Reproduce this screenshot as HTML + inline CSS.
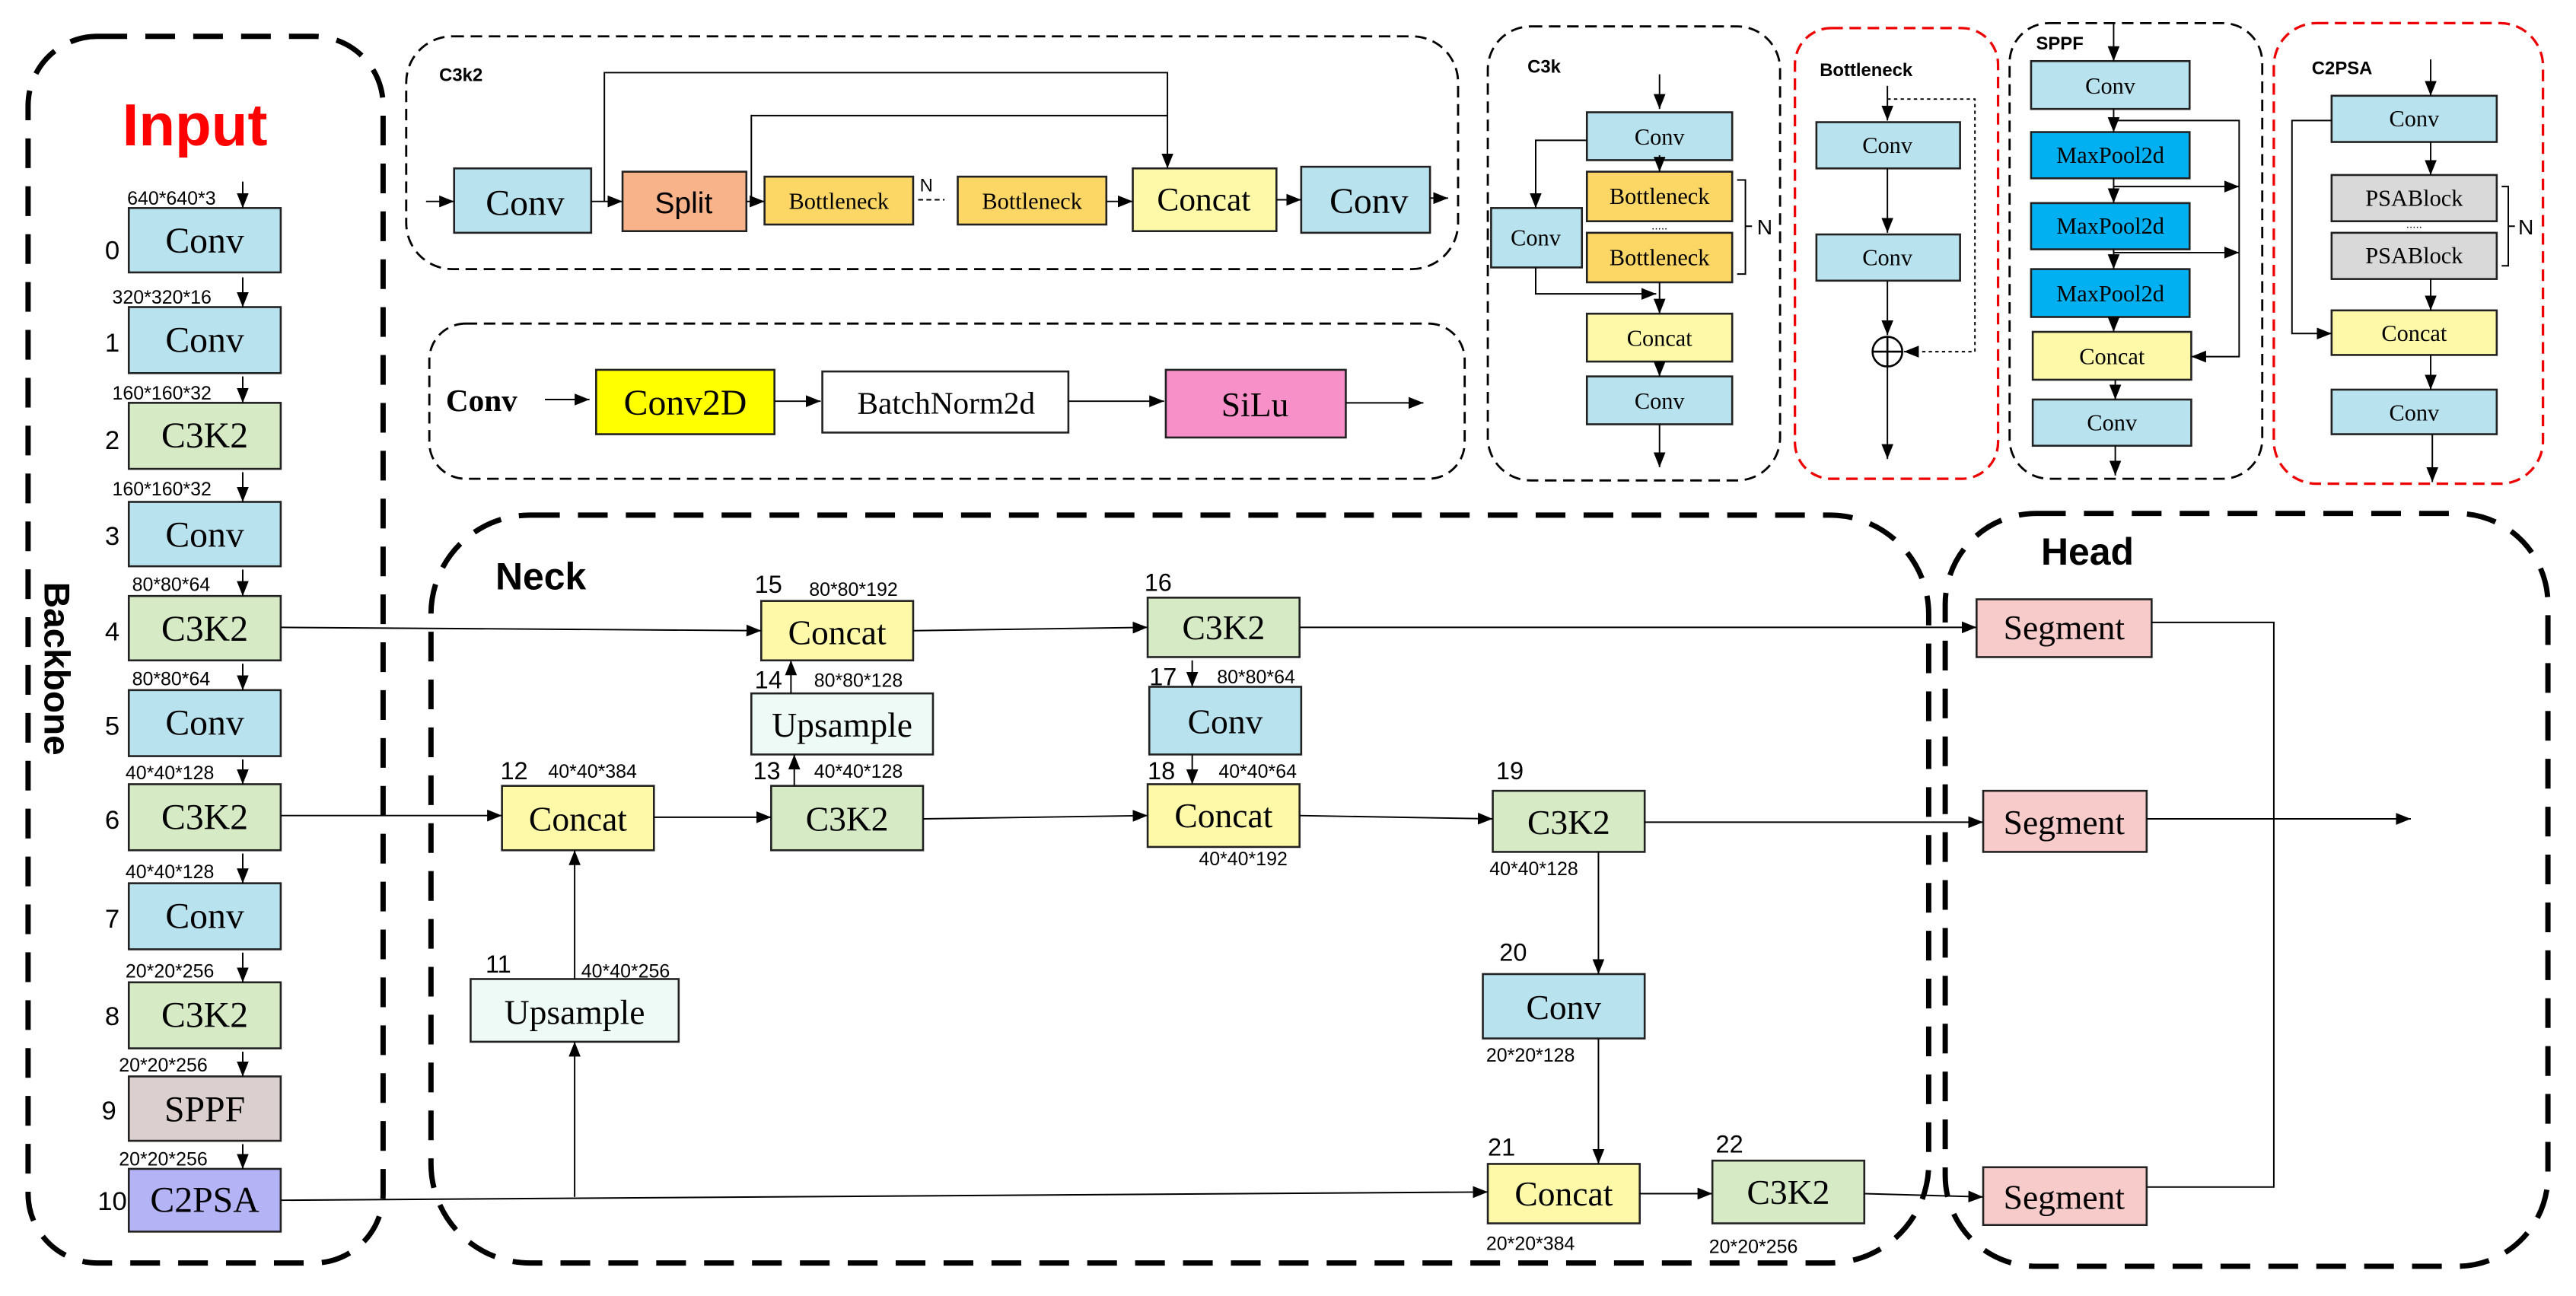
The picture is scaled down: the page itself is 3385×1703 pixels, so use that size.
<!DOCTYPE html>
<html><head><meta charset="utf-8"><style>
html,body{margin:0;padding:0;background:#fff;}
svg{display:block;}
.b{stroke:#222;stroke-width:1.2;}
.t{font-family:"Liberation Serif",serif;text-anchor:middle;dominant-baseline:central;fill:#000;}
.s{font-family:"Liberation Sans",sans-serif;fill:#000;}
.l{stroke:#000;stroke-width:0.9;fill:none;}
.bd{fill:none;stroke:#000;stroke-width:3.2;stroke-dasharray:18 11;}
.td{fill:none;stroke:#000;stroke-width:1.3;stroke-dasharray:7 4;}
.rd{fill:none;stroke:#e00;stroke-width:1.5;stroke-dasharray:7 4;}
</style></head><body>
<svg width="3385" height="1703" viewBox="0 0 1560 785" preserveAspectRatio="none" xmlns="http://www.w3.org/2000/svg">
<defs><marker id="a" viewBox="0 0 10 10" refX="10" refY="5" markerWidth="9" markerHeight="9" markerUnits="userSpaceOnUse" orient="auto"><path d="M0,1 L10,5 L0,9 z" fill="#000"/></marker></defs>
<rect width="1560" height="785" fill="#fff"/>
<!-- Big dashed boxes -->
<rect class="bd" x="17" y="22" width="215" height="743" rx="42"/>
<rect class="bd" x="261" y="312" width="907" height="453" rx="60"/>
<rect class="bd" x="1178" y="311" width="365" height="456" rx="55"/>
<text class="s" x="118" y="88" font-size="36" font-weight="bold" fill="#f00" text-anchor="middle" style="fill:#f00">Input</text>
<text class="s" x="27" y="405" font-size="22" font-weight="bold" text-anchor="middle" transform="rotate(90 27 405)">Backbone</text>
<text class="s" x="300" y="357" font-size="23" font-weight="bold">Neck</text>
<text class="s" x="1236" y="342" font-size="23" font-weight="bold">Head</text>

<!-- Backbone boxes -->
<g font-size="22">
<rect class="b" x="78" y="126" width="92" height="39" fill="#b8e2ee"/><text class="t" x="124" y="146">Conv</text>
<rect class="b" x="78" y="186" width="92" height="40" fill="#b8e2ee"/><text class="t" x="124" y="206">Conv</text>
<rect class="b" x="78" y="244" width="92" height="40" fill="#d5eac5"/><text class="t" x="124" y="264">C3K2</text>
<rect class="b" x="78" y="304" width="92" height="39" fill="#b8e2ee"/><text class="t" x="124" y="324">Conv</text>
<rect class="b" x="78" y="361" width="92" height="39" fill="#d5eac5"/><text class="t" x="124" y="381">C3K2</text>
<rect class="b" x="78" y="418" width="92" height="40" fill="#b8e2ee"/><text class="t" x="124" y="438">Conv</text>
<rect class="b" x="78" y="475" width="92" height="40" fill="#d5eac5"/><text class="t" x="124" y="495">C3K2</text>
<rect class="b" x="78" y="535" width="92" height="40" fill="#b8e2ee"/><text class="t" x="124" y="555">Conv</text>
<rect class="b" x="78" y="595" width="92" height="40" fill="#d5eac5"/><text class="t" x="124" y="615">C3K2</text>
<rect class="b" x="78" y="652" width="92" height="39" fill="#dccfcf"/><text class="t" x="124" y="672">SPPF</text>
<rect class="b" x="78" y="708" width="92" height="38" fill="#b3b3f5"/><text class="t" x="124" y="727">C2PSA</text>
</g>
<g class="s" font-size="16" text-anchor="middle">
<text x="68" y="157">0</text><text x="68" y="213">1</text><text x="68" y="272">2</text><text x="68" y="330">3</text><text x="68" y="388">4</text><text x="68" y="445">5</text><text x="68" y="502">6</text><text x="68" y="562">7</text><text x="68" y="621">8</text><text x="66" y="678">9</text><text x="68" y="733">10</text>
</g>
<g class="s" font-size="11.5">
<text x="77" y="124">640*640*3</text><text x="68" y="184">320*320*16</text><text x="68" y="242">160*160*32</text><text x="68" y="300">160*160*32</text><text x="80" y="358">80*80*64</text><text x="80" y="415">80*80*64</text><text x="76" y="472">40*40*128</text><text x="76" y="532">40*40*128</text><text x="76" y="592">20*20*256</text><text x="72" y="649">20*20*256</text><text x="72" y="706">20*20*256</text>
</g>
<g class="l" marker-end="url(#a)">
<path d="M147,110V126"/><path d="M147,168V186"/><path d="M147,228V244"/><path d="M147,286V304"/><path d="M147,345V361"/><path d="M147,402V418"/><path d="M147,460V475"/><path d="M147,517V535"/><path d="M147,577V595"/><path d="M147,637V652"/><path d="M147,693V708"/>
</g>

<!-- C3k2 panel -->
<rect class="td" x="246" y="22" width="637" height="141" rx="28"/>
<text class="s" x="266" y="49" font-size="11" font-weight="bold">C3k2</text>
<rect class="b" x="275" y="102" width="83" height="39" fill="#b8e2ee"/><text class="t" x="318" y="123" font-size="22">Conv</text>
<rect class="b" x="377" y="104" width="75" height="36" fill="#f9b38a"/><text class="s" x="414" y="129" font-size="18" text-anchor="middle">Split</text>
<rect class="b" x="463" y="107" width="90" height="29" fill="#fdd766"/><text class="t" x="508" y="122" font-size="14">Bottleneck</text>
<rect class="b" x="580" y="107" width="90" height="29" fill="#fdd766"/><text class="t" x="625" y="122" font-size="14">Bottleneck</text>
<text class="s" x="557" y="116" font-size="11">N</text>
<path d="M556,121H572" stroke="#000" stroke-width="0.9" stroke-dasharray="3 2"/>
<rect class="b" x="686" y="102" width="87" height="38" fill="#fef9a8"/><text class="t" x="729" y="121" font-size="20">Concat</text>
<rect class="b" x="788" y="101" width="78" height="40" fill="#b8e2ee"/><text class="t" x="829" y="122" font-size="22">Conv</text>
<g class="l" marker-end="url(#a)">
<path d="M258,122H275"/><path d="M358,122H377"/><path d="M452,122H463"/><path d="M670,122H686"/><path d="M773,121H788"/><path d="M866,120H877"/>
<path d="M366,122V44H707V102"/>
</g>
<path class="l" d="M455,122V70H707"/>

<!-- Conv panel -->
<rect class="td" x="260" y="196" width="627" height="94" rx="22"/>
<text x="270" y="249" font-size="19" font-weight="bold" font-family="Liberation Serif,serif">Conv</text>
<rect class="b" x="361" y="224" width="108" height="39" fill="#ffff00"/><text class="t" x="415" y="244" font-size="22">Conv2D</text>
<rect class="b" x="498" y="225" width="149" height="37" fill="#fff"/><text class="t" x="573" y="244" font-size="19">BatchNorm2d</text>
<rect class="b" x="706" y="224" width="109" height="41" fill="#f790c8"/><text class="t" x="760" y="245" font-size="21">SiLu</text>
<g class="l" marker-end="url(#a)"><path d="M330,242H357"/><path d="M469,243H497"/><path d="M647,243H705"/><path d="M815,244H862"/></g>

<!-- C3k panel -->
<rect class="td" x="901" y="16" width="177" height="275" rx="26"/>
<text class="s" x="925" y="44" font-size="11" font-weight="bold">C3k</text>
<rect class="b" x="961" y="68" width="88" height="29" fill="#b8e2ee"/><text class="t" x="1005" y="83" font-size="14">Conv</text>
<rect class="b" x="961" y="104" width="88" height="30" fill="#fdd766"/><text class="t" x="1005" y="119" font-size="14">Bottleneck</text>
<text class="s" x="1005" y="139" font-size="7" text-anchor="middle">.....</text>
<rect class="b" x="961" y="141" width="88" height="30" fill="#fdd766"/><text class="t" x="1005" y="156" font-size="14">Bottleneck</text>
<path class="l" d="M1052,109H1057V166H1052M1057,137H1061"/><text class="s" x="1064" y="142" font-size="13">N</text>
<rect class="b" x="903" y="126" width="55" height="36" fill="#b8e2ee"/><text class="t" x="930" y="144" font-size="14">Conv</text>
<rect class="b" x="961" y="190" width="88" height="29" fill="#fef9a8"/><text class="t" x="1005" y="205" font-size="14">Concat</text>
<rect class="b" x="961" y="228" width="88" height="29" fill="#b8e2ee"/><text class="t" x="1005" y="243" font-size="14">Conv</text>
<g class="l" marker-end="url(#a)">
<path d="M1005,45V66"/><path d="M1005,94V104"/><path d="M961,85H930V126"/><path d="M930,162V178H1003"/><path d="M1005,171V190"/><path d="M1005,219V228"/><path d="M1005,257V283"/>
</g>

<!-- Bottleneck panel -->
<rect class="rd" x="1087" y="17" width="123" height="273" rx="22"/>
<text class="s" x="1102" y="46" font-size="11" font-weight="bold">Bottleneck</text>
<rect class="b" x="1100" y="74" width="87" height="28" fill="#b8e2ee"/><text class="t" x="1143" y="88" font-size="14">Conv</text>
<rect class="b" x="1100" y="142" width="87" height="28" fill="#b8e2ee"/><text class="t" x="1143" y="156" font-size="14">Conv</text>
<circle cx="1143" cy="213" r="9" fill="#fff" stroke="#000" stroke-width="1.2"/><path d="M1134,213H1152M1143,204V222" stroke="#000" stroke-width="1.2"/>
<g class="l" marker-end="url(#a)"><path d="M1143,52V73"/><path d="M1143,102V141"/><path d="M1143,170V203"/><path d="M1143,222V278"/></g>
<path d="M1143,60H1196V213H1153" fill="none" stroke="#000" stroke-width="0.9" stroke-dasharray="2 2" marker-end="url(#a)"/>

<!-- SPPF panel -->
<rect class="td" x="1217" y="14" width="153" height="276" rx="24"/>
<text class="s" x="1233" y="30" font-size="11" font-weight="bold">SPPF</text>
<rect class="b" x="1230" y="37" width="96" height="29" fill="#b8e2ee"/><text class="t" x="1278" y="52" font-size="14">Conv</text>
<rect class="b" x="1230" y="80" width="96" height="28" fill="#00b0f0"/><text class="t" x="1278" y="94" font-size="14">MaxPool2d</text>
<rect class="b" x="1230" y="123" width="96" height="28" fill="#00b0f0"/><text class="t" x="1278" y="137" font-size="14">MaxPool2d</text>
<rect class="b" x="1230" y="163" width="96" height="29" fill="#00b0f0"/><text class="t" x="1278" y="178" font-size="14">MaxPool2d</text>
<rect class="b" x="1231" y="201" width="96" height="29" fill="#fef9a8"/><text class="t" x="1279" y="216" font-size="14">Concat</text>
<rect class="b" x="1231" y="242" width="96" height="28" fill="#b8e2ee"/><text class="t" x="1279" y="256" font-size="14">Conv</text>
<g class="l" marker-end="url(#a)">
<path d="M1280,14V37"/><path d="M1280,66V80"/><path d="M1280,108V123"/><path d="M1280,151V163"/><path d="M1280,192V201"/><path d="M1281,230V242"/><path d="M1281,270V288"/>
<path d="M1280,73H1356V216H1327"/><path d="M1280,113H1356"/><path d="M1280,153H1356"/>
</g>

<!-- C2PSA panel -->
<rect class="rd" x="1377" y="14" width="163" height="279" rx="26"/>
<text class="s" x="1400" y="45" font-size="11" font-weight="bold">C2PSA</text>
<rect class="b" x="1412" y="58" width="100" height="28" fill="#b8e2ee"/><text class="t" x="1462" y="72" font-size="14">Conv</text>
<rect class="b" x="1412" y="106" width="100" height="28" fill="#d9d9d9"/><text class="t" x="1462" y="120" font-size="14">PSABlock</text>
<text class="s" x="1462" y="138" font-size="7" text-anchor="middle">.....</text>
<rect class="b" x="1412" y="141" width="100" height="28" fill="#d9d9d9"/><text class="t" x="1462" y="155" font-size="14">PSABlock</text>
<path class="l" d="M1515,113H1519V161H1515M1519,137H1523"/><text class="s" x="1525" y="142" font-size="13">N</text>
<rect class="b" x="1412" y="188" width="100" height="27" fill="#fef9a8"/><text class="t" x="1462" y="202" font-size="14">Concat</text>
<rect class="b" x="1412" y="236" width="100" height="27" fill="#b8e2ee"/><text class="t" x="1462" y="250" font-size="14">Conv</text>
<g class="l" marker-end="url(#a)">
<path d="M1472,36V58"/><path d="M1472,86V106"/><path d="M1472,169V188"/><path d="M1472,215V236"/><path d="M1473,263V292"/><path d="M1412,73H1388V202H1412"/>
</g>

<!-- Neck nodes -->
<g font-size="21">
<rect class="b" x="461" y="364" width="92" height="36" fill="#fef9a8"/><text class="t" x="507" y="383">Concat</text>
<rect class="b" x="455" y="420" width="110" height="37" fill="#eefaf6"/><text class="t" x="510" y="439">Upsample</text>
<rect class="b" x="467" y="476" width="92" height="39" fill="#d5eac5"/><text class="t" x="513" y="496">C3K2</text>
<rect class="b" x="304" y="476" width="92" height="39" fill="#fef9a8"/><text class="t" x="350" y="496">Concat</text>
<rect class="b" x="285" y="593" width="126" height="38" fill="#eefaf6"/><text class="t" x="348" y="613">Upsample</text>
<rect class="b" x="695" y="362" width="92" height="36" fill="#d5eac5"/><text class="t" x="741" y="380">C3K2</text>
<rect class="b" x="696" y="416" width="92" height="41" fill="#b8e2ee"/><text class="t" x="742" y="437">Conv</text>
<rect class="b" x="695" y="475" width="92" height="38" fill="#fef9a8"/><text class="t" x="741" y="494">Concat</text>
<rect class="b" x="904" y="479" width="92" height="37" fill="#d5eac5"/><text class="t" x="950" y="498">C3K2</text>
<rect class="b" x="898" y="590" width="98" height="39" fill="#b8e2ee"/><text class="t" x="947" y="610">Conv</text>
<rect class="b" x="901" y="705" width="92" height="36" fill="#fef9a8"/><text class="t" x="947" y="723">Concat</text>
<rect class="b" x="1037" y="703" width="92" height="38" fill="#d5eac5"/><text class="t" x="1083" y="722">C3K2</text>
<rect class="b" x="1197" y="363" width="106" height="35" fill="#f8cbcb"/><text class="t" x="1250" y="380">Segment</text>
<rect class="b" x="1201" y="479" width="99" height="37" fill="#f8cbcb"/><text class="t" x="1250" y="498">Segment</text>
<rect class="b" x="1201" y="707" width="99" height="35" fill="#f8cbcb"/><text class="t" x="1250" y="725">Segment</text>
</g>
<g class="s" font-size="15">
<text x="457" y="359">15</text><text x="457" y="417">14</text><text x="456" y="472">13</text><text x="303" y="472">12</text><text x="294" y="589">11</text><text x="693" y="358">16</text><text x="696" y="415">17</text><text x="695" y="472">18</text><text x="906" y="472">19</text><text x="908" y="582">20</text><text x="901" y="700">21</text><text x="1039" y="698">22</text>
</g>
<g class="s" font-size="11.5">
<text x="490" y="361">80*80*192</text><text x="493" y="416">80*80*128</text><text x="493" y="471">40*40*128</text><text x="332" y="471">40*40*384</text><text x="352" y="592">40*40*256</text>
<text x="737" y="414">80*80*64</text><text x="738" y="471">40*40*64</text><text x="726" y="524">40*40*192</text>
<text x="902" y="530">40*40*128</text><text x="900" y="643">20*20*128</text><text x="900" y="757">20*20*384</text><text x="1035" y="759">20*20*256</text>
</g>
<g class="l" marker-end="url(#a)">
<path d="M170,380L461,382"/><path d="M170,494H304"/><path d="M396,495H467"/><path d="M481,476V457"/><path d="M479,420V400"/>
<path d="M553,382L695,380"/><path d="M787,380H1197"/><path d="M722,400V416"/><path d="M722,457V475"/><path d="M559,496L695,494"/>
<path d="M787,494L904,496"/><path d="M996,498H1201"/><path d="M968,516V590"/><path d="M968,629V705"/>
<path d="M170,727L901,722"/><path d="M348,725V631"/><path d="M348,593V515"/><path d="M993,723H1037"/><path d="M1129,723L1201,725"/>
<path d="M1300,496H1460"/>
</g>
<path class="l" d="M1303,377H1377V719H1300"/>
</svg>
</body></html>
